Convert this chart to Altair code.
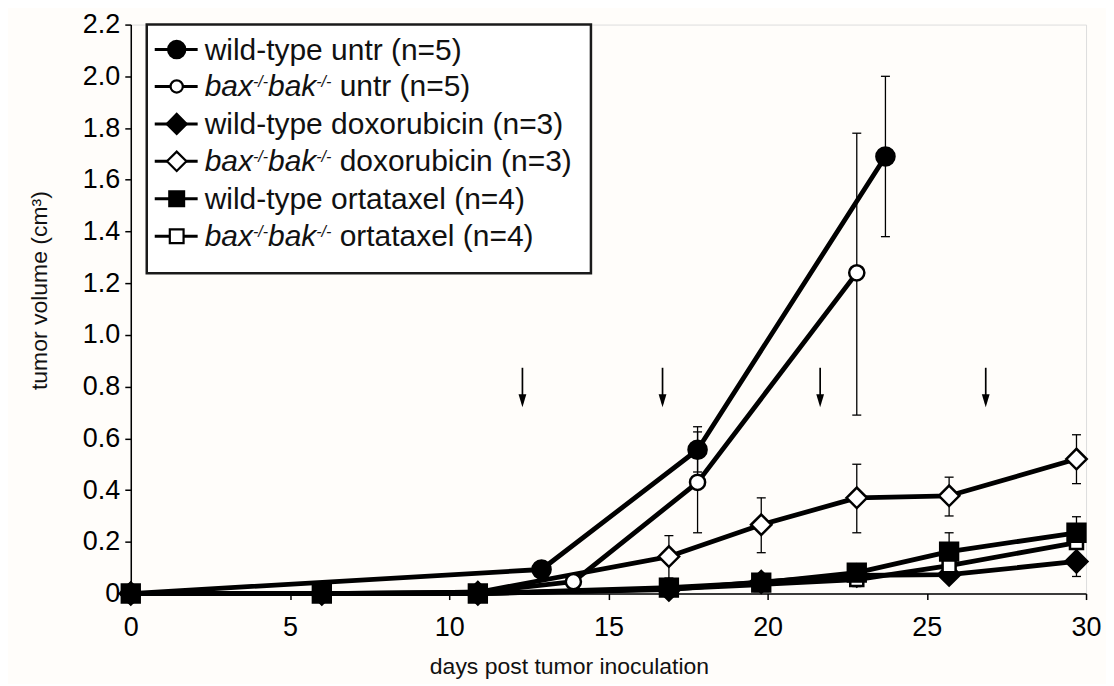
import altair as alt
import pandas as pd

# ---------------- data ----------------
series_order = ["ko_untr", "wt_untr", "ko_dox", "wt_dox", "ko_orta", "wt_orta"]

wt_untr_day = [0, 12.9, 17.8, 23.7]
wt_untr_vol = [0, 0.093, 0.556, 1.69]

ko_untr_day = [0, 6, 10.9, 13.9, 17.8, 22.8]
ko_untr_vol = [0, 0, 0.005, 0.046, 0.43, 1.24]

treat_day = [0, 6, 10.9, 16.9, 19.8, 22.8, 25.7, 29.7]
wt_dox_vol = [0, 0, 0, 0.015, 0.045, 0.07, 0.073, 0.124]
ko_dox_vol = [0, 0, 0.005, 0.143, 0.266, 0.37, 0.378, 0.52]
wt_orta_vol = [0, 0, 0, 0.023, 0.042, 0.081, 0.162, 0.235]
ko_orta_vol = [0, 0, 0, 0.018, 0.035, 0.054, 0.108, 0.197]

err_day = [17.8, 23.7, 17.8, 22.8, 16.9, 19.8, 22.8, 25.7, 29.7, 29.7, 25.7, 29.7, 22.8]
err_low = [0.47, 1.38, 0.235, 0.69, 0.06, 0.158, 0.235, 0.30, 0.425, 0.066, 0.09, 0.175, 0.027]
err_high = [0.645, 2.00, 0.625, 1.78, 0.224, 0.37, 0.50, 0.45, 0.614, 0.18, 0.235, 0.297, 0.08]

arrow_day = [12.3, 16.7, 21.65, 26.85]
arrow_top = [0.873, 0.873, 0.873, 0.873]
arrow_tip = [0.72, 0.72, 0.72, 0.72]

x_ticks = [0, 5, 10, 15, 20, 25, 30]
y_ticks = [0, 0.2, 0.4, 0.6, 0.8, 1.0, 1.2, 1.4, 1.6, 1.8, 2.0, 2.2]

legend_rows = [
    [("wild-type untr (n=5)", "n")],
    [("bax", "i"), ("-/-", "s"), ("bak", "i"), ("-/-", "s"), (" untr (n=5)", "n")],
    [("wild-type doxorubicin (n=3)", "n")],
    [("bax", "i"), ("-/-", "s"), ("bak", "i"), ("-/-", "s"), (" doxorubicin (n=3)", "n")],
    [("wild-type ortataxel (n=4)", "n")],
    [("bax", "i"), ("-/-", "s"), ("bak", "i"), ("-/-", "s"), (" ortataxel (n=4)", "n")],
]
legend_series = ["wt_untr", "ko_untr", "wt_dox", "ko_dox", "wt_orta", "ko_orta"]

# ---------------- styles ----------------
style = {
    "wt_untr": ("circle", "black", 330),
    "ko_untr": ("circle", "white", 230),
    "wt_dox": ("diamond", "black", 480),
    "ko_dox": ("diamond", "white", 420),
    "wt_orta": ("square", "black", 320),
    "ko_orta": ("square", "white", 170),
}
legend_style = {
    "wt_untr": ("circle", "black", 300),
    "ko_untr": ("circle", "white", 150),
    "wt_dox": ("diamond", "black", 400),
    "ko_dox": ("diamond", "white", 380),
    "wt_orta": ("square", "black", 220),
    "ko_orta": ("square", "white", 190),
}

FONT = "Liberation Sans"
W, H = 957, 570

# ---------------- tables ----------------
series_data = {
    "wt_untr": (wt_untr_day, wt_untr_vol),
    "ko_untr": (ko_untr_day, ko_untr_vol),
    "wt_dox": (treat_day, wt_dox_vol),
    "ko_dox": (treat_day, ko_dox_vol),
    "wt_orta": (treat_day, wt_orta_vol),
    "ko_orta": (treat_day, ko_orta_vol),
}
rows = []
for k, s in enumerate(series_order):
    d, v = series_data[s]
    shp, fil, siz = style[s]
    for dd, vv in zip(d, v):
        rows.append({"series": s, "order": k, "day": dd, "vol": vv,
                     "shape": shp, "fill": fil, "size": siz})
df = pd.DataFrame(rows)

err_df = pd.DataFrame({"day": err_day, "low": err_low, "high": err_high})
arrow_df = pd.DataFrame({"day": arrow_day, "top": arrow_top, "tip": arrow_tip})
arrow_df["head"] = arrow_df["tip"] + 6.5 / (H / 2.2)
arrow_df["shaft_end"] = arrow_df["tip"] + 4 / (H / 2.2)

xs = alt.Scale(domain=[0, 30], nice=False, zero=False)
ys = alt.Scale(domain=[0, 2.2], nice=False, zero=False)

x_axis = alt.Axis(values=x_ticks, title="days post tumor inoculation", grid=False,
                  labelFontSize=27, labelFont=FONT, labelColor="black",
                  labelPadding=15, tickSize=6, tickColor="black", tickWidth=1.5,
                  domainColor="black", domainWidth=1.5, labelFlush=False,
                  titleFont=FONT, titleFontSize=23, titleFontWeight="normal",
                  titleColor="#111111", titleX=439, titleY=73,
                  titleAlign="center", titleBaseline="middle")
y_axis = alt.Axis(values=y_ticks, title="tumor volume (cm³)", grid=False,
                  labelExpr="datum.value == 0 ? '0' : format(datum.value, '.1f')",
                  labelFontSize=27, labelFont=FONT, labelColor="black",
                  labelPadding=5, tickSize=6, tickColor="black", tickWidth=1.5,
                  domainColor="black", domainWidth=1.5, labelFlush=False,
                  titleFont=FONT, titleFontSize=23, titleFontWeight="normal",
                  titleColor="#111111", titleX=-91, titleY=266, titleAngle=-90,
                  titleAlign="center", titleBaseline="middle")

base_x = alt.X("day:Q", scale=xs, axis=x_axis)
base_y = alt.Y("vol:Q", scale=ys, axis=y_axis)

# error bars
err_rule = alt.Chart(err_df).mark_rule(color="black", strokeWidth=1.3).encode(
    x=alt.X("day:Q", scale=xs), y=alt.Y("low:Q", scale=ys), y2="high:Q")
err_cap_lo = alt.Chart(err_df).mark_tick(color="black", thickness=1.3, size=9,
                                         orient="horizontal", opacity=1).encode(
    x=alt.X("day:Q", scale=xs), y=alt.Y("low:Q", scale=ys))
err_cap_hi = alt.Chart(err_df).mark_tick(color="black", thickness=1.3, size=9,
                                         orient="horizontal", opacity=1).encode(
    x=alt.X("day:Q", scale=xs), y=alt.Y("high:Q", scale=ys))

lines = alt.Chart(df).mark_line(color="black", strokeWidth=4.8, strokeJoin="round").encode(
    x=base_x, y=base_y, detail="series:N", order="day:Q")

points = alt.Chart(df).mark_point(filled=True, stroke="black", strokeWidth=2.5,
                                  opacity=1).encode(
    x=alt.X("day:Q", scale=xs), y=alt.Y("vol:Q", scale=ys),
    shape=alt.Shape("shape:N", scale=None),
    fill=alt.Fill("fill:N", scale=None),
    size=alt.Size("size:Q", scale=None),
    order=alt.Order("order:Q"))

# arrows
arrow_shaft = alt.Chart(arrow_df).mark_rule(color="black", strokeWidth=1.7).encode(
    x=alt.X("day:Q", scale=xs), y=alt.Y("top:Q", scale=ys), y2="shaft_end:Q")
arrow_head = alt.Chart(arrow_df).mark_point(
    shape="M-0.6,-1L0,1L0.6,-1Z", filled=True, color="black", size=169, opacity=1
).encode(x=alt.X("day:Q", scale=xs), y=alt.Y("head:Q", scale=ys))

# ---------------- legend (built by hand, pixel layout inside plot) ----------------
AW = {"a": 556, "b": 556, "c": 500, "d": 556, "e": 556, "i": 222, "k": 500,
      "l": 222, "n": 556, "o": 556, "p": 556, "r": 333, "t": 278, "u": 556,
      "w": 722, "x": 500, "y": 500, " ": 278, "(": 333, ")": 333, "=": 584,
      "3": 556, "4": 556, "5": 556, "-": 333, "/": 278}


def tw(s, size):
    return sum(AW.get(c, 556) for c in s) * size / 1000.0


LEG_FS, SUP_FS = 30, 16
box_left, box_top, box_right, box_bottom = 16, 0, 461, 249
sym_x1, sym_x2, sym_mx, text_x = 24, 67, 46, 74
baselines = [35, 72, 109.5, 147, 184.5, 222]

txt_rows, sym_rows, mk_rows = [], [], []
for r, (pieces, s) in enumerate(zip(legend_rows, legend_series)):
    bl = baselines[r]
    cx = text_x
    for text, kind in pieces:
        fs = SUP_FS if kind == "s" else LEG_FS
        if text.startswith(" "):
            cx += tw(" ", fs)
            text = text[1:]
        y = bl - 9 if kind == "s" else bl
        txt_rows.append({"px": cx, "py": y, "t": text, "kind": kind})
        cx += tw(text, fs)
    cy = bl - 10
    sym_rows.append({"x1": sym_x1, "x2": sym_x2, "py": cy})
    shp, fil, siz = legend_style[s]
    mk_rows.append({"px": sym_mx, "py": cy, "shape": shp, "fill": fil, "size": siz})
txt_df = pd.DataFrame(txt_rows)
sym_df = pd.DataFrame(sym_rows)
mk_df = pd.DataFrame(mk_rows)
box_df = pd.DataFrame({"x1": [box_left], "x2": [box_right], "y1": [box_top], "y2": [box_bottom]})

PX = lambda f: alt.X(f, scale=None, axis=None)
PY = lambda f: alt.Y(f, scale=None, axis=None)

leg_box = alt.Chart(box_df).mark_rect(fill="white", stroke="#1a1a1a", strokeWidth=2.5).encode(
    x=PX("x1:Q"), x2="x2:Q", y=PY("y1:Q"), y2="y2:Q")
leg_lines = alt.Chart(sym_df).mark_rule(color="black", strokeWidth=3).encode(
    x=PX("x1:Q"), x2="x2:Q", y=PY("py:Q"))
leg_marks = alt.Chart(mk_df).mark_point(filled=True, stroke="black", strokeWidth=2.2,
                                        opacity=1).encode(
    x=PX("px:Q"), y=PY("py:Q"),
    shape=alt.Shape("shape:N", scale=None),
    fill=alt.Fill("fill:N", scale=None),
    size=alt.Size("size:Q", scale=None))
leg_norm = alt.Chart(txt_df).transform_filter("datum.kind == 'n'").mark_text(
    align="left", baseline="alphabetic", font=FONT, fontSize=LEG_FS, color="#111111").encode(
    x=PX("px:Q"), y=PY("py:Q"), text="t:N")
leg_ital = alt.Chart(txt_df).transform_filter("datum.kind == 'i'").mark_text(
    align="left", baseline="alphabetic", font=FONT, fontSize=LEG_FS, fontStyle="italic",
    color="#111111").encode(x=PX("px:Q"), y=PY("py:Q"), text="t:N")
leg_sup = alt.Chart(txt_df).transform_filter("datum.kind == 's'").mark_text(
    align="left", baseline="alphabetic", font=FONT, fontSize=SUP_FS, fontStyle="italic",
    color="#111111").encode(x=PX("px:Q"), y=PY("py:Q"), text="t:N")

chart = alt.layer(
    lines, err_rule, err_cap_lo, err_cap_hi, points, arrow_shaft, arrow_head,
    leg_box, leg_lines, leg_marks, leg_norm, leg_ital, leg_sup
).properties(
    width=W, height=H,
    autosize=alt.AutoSizeParams(type="none"),
    padding={"left": 123, "top": 16, "right": 20, "bottom": 90},
    background="#fffdfa",
).configure_view(stroke=None).configure(font=FONT)

chart.save("out.html", embed_options={"renderer": "svg", "actions": False})
